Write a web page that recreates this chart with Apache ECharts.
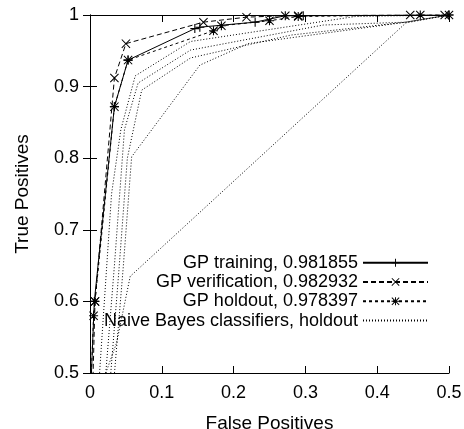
<!DOCTYPE html>
<html>
<head>
<meta charset="utf-8">
<script src="https://cdn.jsdelivr.net/npm/echarts@6/dist/echarts.min.js"></script>
<style>html,body{margin:0;padding:0;background:#fff}#c{width:464px;height:429px}</style>
</head>
<body>
<div id="c"></div>
<script>
// ---- data (False Positives, True Positives) ----
const legendNames = ['GP training, 0.981855', 'GP verification, 0.982932', 'GP holdout, 0.978397', 'Naive Bayes classifiers, holdout'];
const gpTraining = [[0.0,0.45],[0.006,0.6],[0.034,0.872],[0.053,0.937],[0.146,0.981],[0.153,0.983],[0.23,0.99],[0.272,0.999],[0.297,0.999],[0.5,1.0]];
const gpVerification = [[0.003,0.45],[0.007,0.6],[0.034,0.912],[0.05,0.96],[0.158,0.99],[0.218,0.997],[0.272,0.999],[0.29,0.999],[0.446,1.0],[0.494,1.0]];
const gpHoldout = [[0.0,0.45],[0.005,0.58],[0.007,0.6],[0.034,0.872],[0.053,0.937],[0.172,0.978],[0.183,0.985],[0.25,0.992],[0.29,0.998],[0.46,1.0],[0.5,1.0]];
const nb1 = [[0.01,0.45],[0.03,0.75],[0.043,0.84],[0.063,0.915],[0.14,0.963],[0.37,0.998],[0.5,1.0]];
const nb2 = [[0.018,0.45],[0.034,0.65],[0.048,0.84],[0.067,0.905],[0.14,0.951],[0.325,0.986],[0.44,0.99],[0.5,1.0]];
const nb3 = [[0.025,0.45],[0.04,0.64],[0.052,0.8],[0.072,0.895],[0.14,0.94],[0.28,0.972],[0.44,0.99],[0.5,1.0]];
const nb4 = [[0.03,0.45],[0.046,0.644],[0.058,0.802],[0.153,0.93],[0.22,0.96],[0.44,0.99],[0.5,1.0]];
const nb5 = [[0.022,0.5],[0.037,0.542],[0.056,0.635],[0.44,0.989],[0.5,1.0]];

const FONT = 'Liberation Sans, Arial, Helvetica, sans-serif';
const PLUS = 'path://M44,0H56V44H100V56H56V100H44V56H0V44H44Z';
const CROSS = 'path://M0,8L8,0L50,42L92,0L100,8L58,50L100,92L92,100L50,58L8,100L0,92L42,50Z';
const STAR = 'path://M44,0H56V44H100V56H56V100H44V56H0V44H44Z M0,8L8,0L50,42L92,0L100,8L58,50L100,92L92,100L50,58L8,100L0,92L42,50Z';

function nbSeries(d) {
  return {
    type: 'line', name: legendNames[3], data: d, symbol: 'none',
    lineStyle: { color: '#000', width: 1, type: [1, 2] },
    itemStyle: { color: '#000' }, z: 2
  };
}

const chart = echarts.init(document.getElementById('c'), null, { renderer: 'canvas' });
const axisCommon = {
  type: 'value', splitLine: { show: false },
  axisLine: { show: true, lineStyle: { color: '#000', width: 1 } },
  axisTick: { show: true, inside: true, length: 7, lineStyle: { color: '#000' } }
};
chart.setOption({
  animation: false,
  backgroundColor: '#fff',
  grid: { left: 90, right: 15, top: 15, bottom: 56, show: false, containLabel: false, outerBoundsMode: 'none' },
  xAxis: [
    Object.assign({}, axisCommon, {
      min: 0, max: 0.5, interval: 0.1, position: 'bottom',
      name: 'False Positives', nameLocation: 'middle', nameGap: 41,
      nameTextStyle: { fontSize: 19, fontFamily: FONT, color: '#000' },
      axisLabel: { fontSize: 18, fontFamily: FONT, color: '#000', margin: 11 }
    }),
    Object.assign({}, axisCommon, {
      min: 0, max: 0.5, interval: 0.1, position: 'top', axisLabel: { show: false }
    })
  ],
  yAxis: [
    Object.assign({}, axisCommon, {
      min: 0.5, max: 1, interval: 0.1, position: 'left',
      name: 'True Positives', nameLocation: 'middle', nameGap: 58,
      nameTextStyle: { fontSize: 19, fontFamily: FONT, color: '#000' },
      axisLabel: { fontSize: 18, fontFamily: FONT, color: '#000', margin: 11 }
    }),
    Object.assign({}, axisCommon, {
      min: 0.5, max: 1, interval: 0.1, position: 'right', axisLabel: { show: false }
    })
  ],
  legend: {
    orient: 'vertical', right: 35, top: 253, align: 'right', padding: 0,
    itemWidth: 65, itemHeight: 10, itemGap: 0, selectedMode: false,
    textStyle: { fontSize: 18, fontFamily: FONT, color: '#000', lineHeight: 19.3 },
    data: [
      legendNames[0], legendNames[1], legendNames[2],
      { name: legendNames[3], itemStyle: { opacity: 0 } }
    ]
  },
  series: [
    nbSeries(nb1), nbSeries(nb2), nbSeries(nb3), nbSeries(nb4), nbSeries(nb5),
    {
      type: 'line', name: legendNames[0], data: gpTraining, symbol: PLUS, symbolSize: 9,
      lineStyle: { color: '#000', width: 1, type: 'solid' }, itemStyle: { color: '#000' }, z: 5
    },
    {
      type: 'line', name: legendNames[1], data: gpVerification, symbol: CROSS, symbolSize: 9,
      lineStyle: { color: '#000', width: 1, type: [5, 3] }, itemStyle: { color: '#000' }, z: 4
    },
    {
      type: 'line', name: legendNames[2], data: gpHoldout, symbol: STAR, symbolSize: 9,
      lineStyle: { color: '#000', width: 1, type: [3, 3] }, itemStyle: { color: '#000' }, z: 3
    }
  ]
});
</script>
</body>
</html>
